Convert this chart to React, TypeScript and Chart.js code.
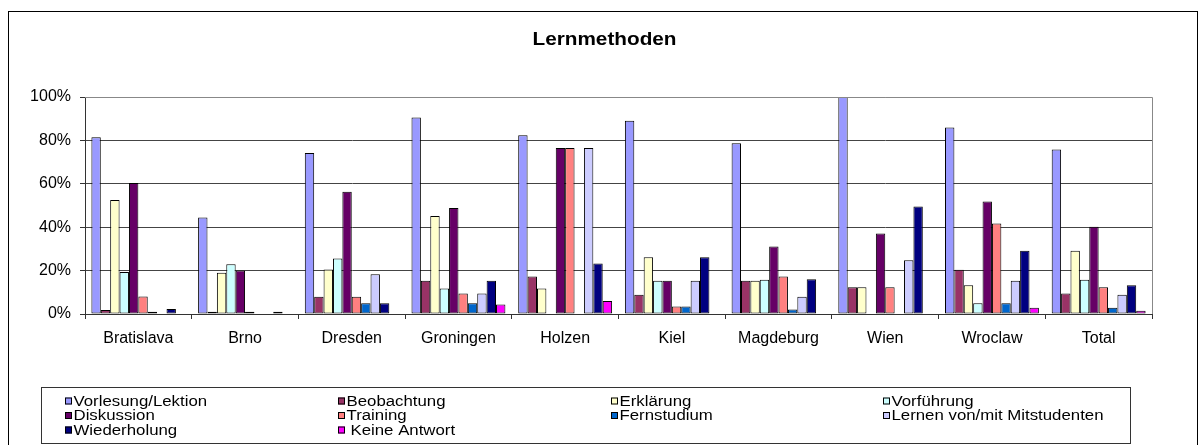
import React, { useEffect, useRef } from 'react';
import { Chart, registerables } from 'chart.js';

Chart.register(...registerables);

const categories = ['Bratislava', 'Brno', 'Dresden', 'Groningen', 'Holzen', 'Kiel', 'Magdeburg', 'Wien', 'Wroclaw', 'Total'];

const vorlesung = [81.5, 44.5, 74.2, 90.5, 82.4, 89.0, 78.7, 100, 86.0, 75.8];
const beobachtung = [1.8, 1, 8, 15.3, 17.3, 8.9, 15.3, 12.3, 20.4, 9.5];
const erklaerung = [52.5, 19, 20.5, 45.2, 11.7, 26.2, 15.3, 12.3, 13.2, 29.1];
const vorfuehrung = [19.3, 22.9, 25.6, 11.7, 0, 15.3, 15.8, 0, 4.9, 15.8];
const diskussion = [60.4, 20, 56.3, 48.9, 76.5, 15.3, 31.1, 37.1, 51.8, 40.2];
const training = [8.1, 1, 8, 9.4, 76.5, 3.4, 17.3, 12.3, 41.7, 12.3];
const fernstudium = [1, 0, 4.9, 4.9, 0, 3.4, 2.1, 0, 4.9, 2.9];
const lernen = [0, 0, 18.3, 9.4, 76.5, 15.3, 8, 24.8, 15.3, 8.9];
const wiederholung = [2.3, 1, 4.9, 15.3, 23.3, 26.2, 16, 49.5, 29.1, 13.2];
const keineAntwort = [0, 0, 0, 4.4, 6, 0, 0, 0, 2.9, 1.5];

const seriesLabels = [
  'Vorlesung/Lektion',
  'Beobachtung',
  'Erklärung',
  'Vorführung',
  'Diskussion',
  'Training',
  'Fernstudium',
  'Lernen von/mit Mitstudenten',
  'Wiederholung',
  'Keine Antwort',
];
const seriesColors = ['#9999FF', '#993366', '#FFFFCC', '#CCFFFF', '#660066', '#FF8080', '#0066CC', '#CCCCFF', '#000080', '#FF00FF'];

const yTicks = [0, 20, 40, 60, 80, 100];
const titleText = 'Lernmethoden';

const FONT = '"Liberation Sans", Arial, sans-serif';

export default function App() {
  const ref = useRef<HTMLCanvasElement>(null);

  useEffect(() => {
    const canvas = ref.current!;
    const values = [vorlesung, beobachtung, erklaerung, vorfuehrung, diskussion, training, fernstudium, lernen, wiederholung, keineAntwort];

    const chrome = {
      id: 'chrome',
      afterDraw(chart: any) {
        const ctx = chart.ctx as CanvasRenderingContext2D;
        const area = chart.chartArea;
        ctx.save();
        // outer frame
        ctx.strokeStyle = '#000';
        ctx.lineWidth = 1;
        ctx.strokeRect(8.5, 11.5, 1189, 500);

        // plot area top/right border
        ctx.strokeStyle = '#888';
        ctx.beginPath();
        ctx.moveTo(area.left, Math.round(area.top) + 0.5);
        ctx.lineTo(Math.round(area.right) + 0.5, Math.round(area.top) + 0.5);
        ctx.lineTo(Math.round(area.right) + 0.5, area.bottom);
        ctx.stroke();

        // title
        ctx.fillStyle = '#000';
        ctx.font = 'bold 18.5px ' + FONT;
        ctx.textBaseline = 'alphabetic';
        ctx.textAlign = 'left';
        const tw = ctx.measureText(titleText).width;
        const sx = 144 / tw;
        ctx.save();
        ctx.translate(604.5 - 72, 45);
        ctx.scale(sx, 1);
        ctx.fillText(titleText, 0, 0);
        ctx.restore();

        // legend box
        ctx.strokeStyle = '#333';
        ctx.strokeRect(41.5, 387.5, 1089, 56);
        const colX = [65, 338, 611, 883];
        const rowY = [401, 415.5, 430];
        ctx.font = '14px ' + FONT;
        ctx.textBaseline = 'middle';
        chart.data.datasets.forEach((ds: any, i: number) => {
          const col = i % 4;
          const row = Math.floor(i / 4);
          const x = colX[col];
          const y = rowY[row];
          ctx.fillStyle = ds.backgroundColor;
          ctx.fillRect(x, y - 3.5, 7, 7);
          ctx.strokeStyle = '#000';
          ctx.strokeRect(x + 0.5, y - 3, 6, 6);
          ctx.fillStyle = '#000';
          ctx.save();
          ctx.translate(x + 8.5 + (i === 9 ? 4 : 0), y + 1);
          ctx.scale(1.2, 1);
          ctx.fillText(ds.label, 0, 0);
          ctx.restore();
        });
        ctx.restore();
      },
    };

    const chart = new Chart(canvas, {
      type: 'bar',
      data: {
        labels: categories,
        datasets: seriesLabels.map((label, i) => ({
          label,
          data: values[i],
          backgroundColor: seriesColors[i],
          borderColor: '#000',
          borderWidth: 1,
          borderSkipped: false,
          categoryPercentage: 0.88,
          barPercentage: 1,
        })),
      },
      options: {
        responsive: false,
        animation: false,
        devicePixelRatio: 1,
        layout: { padding: { top: 97, right: 48, left: 0, bottom: 0 } },
        plugins: {
          legend: { display: false },
          title: { display: false },
          tooltip: { enabled: false },
        },
        scales: {
          x: {
            grid: { offset: true, drawOnChartArea: false, tickLength: 5, color: '#333' },
            border: { color: '#333', width: 1 },
            ticks: { font: { size: 16, family: FONT }, color: '#000', padding: 10, maxRotation: 0, autoSkip: false },
            afterFit: (s: any) => {
              s.height = 131;
            },
          },
          y: {
            min: 0,
            max: 100,
            afterBuildTicks: (s: any) => {
              s.ticks = yTicks.map((v) => ({ value: v }));
            },
            ticks: {
              callback: (v: any) => v + '%',
              font: { size: 16, family: FONT },
              color: '#000',
              padding: 9,
            },
            grid: {
              color: (c: any) => (c.tick && c.tick.value === 100 ? '#888' : '#444'),
              tickColor: '#333',
              tickLength: 5,
            },
            border: { color: '#333', width: 1 },
            afterFit: (s: any) => {
              s.width = 85;
            },
          },
        },
      },
      plugins: [chrome],
    } as any);

    return () => chart.destroy();
  }, []);

  return (
    <div style={{ position: 'absolute', left: 0, top: 0, width: 1200, height: 445, background: '#fff' }}>
      <canvas ref={ref} width={1200} height={445} style={{ display: 'block' }} />
    </div>
  );
}
